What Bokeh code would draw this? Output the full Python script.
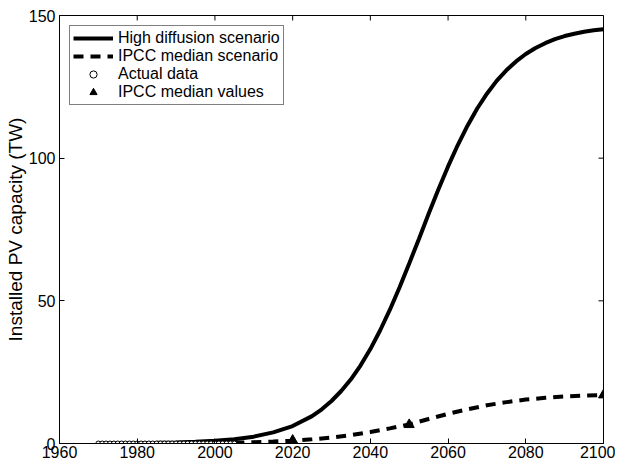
import math
from bokeh.plotting import figure
from bokeh.models import FixedTicker, Range1d, Legend, LegendItem
from bokeh.embed import file_html
from bokeh.resources import INLINE

# ---- data ----
high_years = [1970, 1975, 1980, 1985, 1990, 1995, 2000, 2005, 2010, 2015, 2020, 2025,
              2027.5, 2030, 2032.5, 2035, 2037.5, 2040, 2042.5, 2045, 2047.5, 2050,
              2052.5, 2055, 2057.5, 2060, 2062.5, 2065, 2067.5, 2070, 2072.5, 2075,
              2077.5, 2080, 2082.5, 2085, 2087.5, 2090, 2092.5, 2095, 2097.5, 2100]
high_values = [0.06, 0.09, 0.14, 0.23, 0.37, 0.59, 0.95, 1.5, 2.4, 3.9, 6.1, 9.6,
               12.0, 14.9, 18.4, 22.5, 27.4, 33.1, 39.6, 46.8, 54.7, 63.1,
               71.7, 80.5, 89.0, 97.1, 104.6, 111.4, 117.4, 122.6, 127.1, 130.8,
               133.9, 136.5, 138.6, 140.3, 141.7, 142.8, 143.6, 144.3, 144.8, 145.2]

ipcc_years = [2005, 2010, 2015, 2020, 2025, 2030, 2035, 2040, 2045, 2050, 2055, 2060,
              2065, 2070, 2075, 2080, 2085, 2090, 2095, 2100]
ipcc_values = [0.3, 0.46, 0.68, 1.0, 1.45, 2.1, 2.95, 4.0, 5.3, 6.7, 8.6, 10.4,
               12.0, 13.4, 14.5, 15.4, 16.0, 16.5, 16.8, 17.0]

actual_years = list(range(1970, 2006))
actual_values = [0.0, 0.0, 0.0, 0.0, 0.0, 0.0, 0.0, 0.0, 0.0, 0.0,
                 0.0, 0.0, 0.0, 0.0, 0.0, 0.0, 0.0, 0.0, 0.0, 0.0,
                 0.0, 0.0, 0.001, 0.001, 0.001, 0.001, 0.001, 0.001, 0.002, 0.002,
                 0.002, 0.003, 0.003, 0.004, 0.004, 0.005]

ipcc_point_years = [2020, 2050, 2100]
ipcc_point_values = [1.1, 6.6, 17.0]

x_ticks = [1960, 1980, 2000, 2020, 2040, 2060, 2080, 2100]
y_ticks = [0, 50, 100, 150]

FONT = "Liberation Sans"

p = figure(output_backend="svg", toolbar_location=None,
           frame_width=544, frame_height=428,
           x_range=Range1d(x_ticks[0], x_ticks[-1]), y_range=Range1d(y_ticks[0], y_ticks[-1]),
           min_border_left=59, min_border_top=15, min_border_right=12, min_border_bottom=22)
p.xgrid.visible = False
p.ygrid.visible = False
p.outline_line_color = "black"
p.outline_line_width = 1
p.background_fill_color = "white"
p.border_fill_color = "white"

r_high = p.line(high_years, high_values, line_color="black", line_width=4)
r_ipcc = p.line(ipcc_years, ipcc_values, line_color="black", line_width=4, line_dash="10 7")
r_act = p.scatter(actual_years, actual_values, marker="circle", size=5,
                  fill_color="white", line_color="black", line_width=1)
r_pts = p.scatter(ipcc_point_years, ipcc_point_values, marker="triangle", size=10,
                  fill_color="black", line_color="black")

# inward ticks on the top and right edges of the box
p.ray(x=x_ticks, y=[y_ticks[-1]] * len(x_ticks), length=5, length_units="screen",
      angle=-math.pi / 2, line_color="black", line_width=1)
p.ray(x=[x_ticks[-1]] * len(y_ticks), y=y_ticks, length=5, length_units="screen",
      angle=math.pi, line_color="black", line_width=1)

for ax, ticks in ((p.xaxis[0], x_ticks), (p.yaxis[0], y_ticks)):
    ax.ticker = FixedTicker(ticks=ticks)
    ax.major_tick_in = 5
    ax.major_tick_out = 0
    ax.minor_tick_in = 0
    ax.minor_tick_out = 0
    ax.major_label_text_font = FONT
    ax.major_label_text_font_size = "16px"
    ax.major_label_text_color = "black"
    ax.axis_line_color = "black"
    ax.major_tick_line_color = "black"

p.xaxis[0].major_label_standoff = 2
p.yaxis[0].major_label_standoff = 4
p.yaxis[0].axis_label = "Installed PV capacity (TW)"
p.yaxis[0].axis_label_text_font = FONT
p.yaxis[0].axis_label_text_font_style = "normal"
p.yaxis[0].axis_label_text_font_size = "19px"
p.yaxis[0].axis_label_text_color = "black"
p.yaxis[0].axis_label_standoff = 0

legend = Legend(items=[
    LegendItem(label="High diffusion scenario", renderers=[r_high]),
    LegendItem(label="IPCC median scenario", renderers=[r_ipcc]),
    LegendItem(label="Actual data", renderers=[r_act]),
    LegendItem(label="IPCC median values", renderers=[r_pts]),
], location="top_left")
legend.margin = 10
legend.padding = 3
legend.spacing = 0
legend.glyph_width = 40
legend.glyph_height = 18
legend.label_height = 18
legend.label_standoff = 5
legend.label_text_font = FONT
legend.label_text_font_size = "16px"
legend.label_text_color = "black"
legend.border_line_color = "black"
legend.border_line_width = 1
legend.background_fill_alpha = 1
p.add_layout(legend, "center")

open("out.html", "w").write(file_html(p, INLINE))
